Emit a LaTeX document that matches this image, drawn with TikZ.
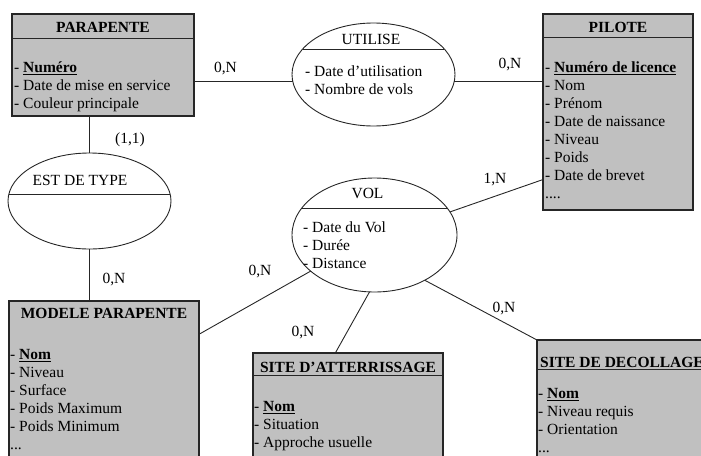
\documentclass[tikz,border=0pt]{standalone}
\usepackage{fontspec}
\setmainfont{Liberation Serif}
\usetikzlibrary{shapes, calc, positioning}
\newcommand{\erfont}{\fontsize{15.5}{18}\selectfont}
\definecolor{boxFill}{RGB}{192,192,192}
\colorlet{drawColor}{black!85}
\tikzstyle{entity}=[rectangle, anchor=north west, inner sep=0pt, outer sep=0pt,
draw=drawColor, fill=boxFill, line width=1.2pt]
\tikzstyle{relation}=[ellipse, inner sep=0pt, outer sep=0pt, draw=drawColor, line width=0.9pt]
\tikzstyle{eTitle}=[anchor=base, inner sep=0pt, font=\erfont\bfseries]
\tikzstyle{rTitle}=[anchor=base, inner sep=0pt]
\tikzstyle{attrs}=[anchor=north west, inner sep=0pt, align=left]
\tikzstyle{sep}=[draw=drawColor, line width=1pt]
\tikzstyle{link}=[draw=drawColor, line width=0.9pt]
\tikzstyle{card}=[anchor=base, inner sep=0pt]
\begin{document}
\begin{tikzpicture}[x=1pt, y=-1pt, font=\erfont]
      \useasboundingbox (0,0) rectangle (701,455);
      \clip (0,0) rectangle (701,455);
      % entites
      \node(parapente) [entity, minimum width=182, minimum height=102] at (12,14) {};
      \node(parapente-titre) [eTitle] at ($(parapente.north)+(0,18)$) {PARAPENTE};
      \draw [sep] ($(parapente.north west)+(0,24)$) -- ($(parapente.north east)+(0,24)$);
      \node(parapente-attr) [attrs] at ($(parapente.north west)+(2,45.5)$)
      {\strut- \underline{\textbf{Numéro}}\\- Date de mise en service\\- Couleur principale};
      \node(pilote) [entity, minimum width=150, minimum height=196] at (543,14) {};
      \node(pilote-titre) [eTitle] at ($(pilote.north)+(0,18)$) {PILOTE};
      \draw [sep] ($(pilote.north west)+(0,23)$) -- ($(pilote.north east)+(0,23)$);
      \node(pilote-attr) [attrs] at ($(pilote.north west)+(2,45.5)$)
      {\strut- \underline{\textbf{Numéro de licence}}\\- Nom\\- Prénom\\- Date de naissance\\
        - Niveau\\- Poids\\- Date de brevet\\....};
      \node(modele) [entity, minimum width=190, minimum height=174] at (9,301) {};
      \node(modele-titre) [eTitle] at ($(modele.north)+(0,17)$) {MODELE PARAPENTE};
      \node(modele-attr) [attrs] at ($(modele.north west)+(1,45.5)$)
      {\strut- \underline{\textbf{Nom}}\\- Niveau\\- Surface\\- Poids Maximum\\- Poids Minimum\\...};
      \node(atterrissage) [entity, minimum width=190, minimum height=110] at (253,353) {};
      \node(atterrissage-titre) [eTitle] at ($(atterrissage.north)+(0,19)$) {SITE D’ATTERRISSAGE};
      \draw [sep] ($(atterrissage.north west)+(0,22)$) -- ($(atterrissage.north east)+(0,22)$);
      \node(atterrissage-attr) [attrs] at ($(atterrissage.north west)+(1,45.5)$)
      {\strut- \underline{\textbf{Nom}}\\- Situation\\- Approche usuelle};
      \node(decollage) [entity, minimum width=170, minimum height=130] at (537,340) {};
      \node(decollage-titre) [eTitle] at ($(decollage.north)+(0,27)$) {SITE DE DECOLLAGE};
      \draw [sep] ($(decollage.north west)+(0,29)$) -- ($(decollage.north east)+(0,29)$);
      \node(decollage-attr) [attrs] at ($(decollage.north west)+(1,45.5)$)
      {\strut- \underline{\textbf{Nom}}\\- Niveau requis\\- Orientation\\...};
      % associations
      \node(utilise) [relation, minimum width=163, minimum height=103] at (373.5,74.5) {};
      \node(utilise-titre) [rTitle] at ($(utilise.center)+(-2.5,-30.5)$) {UTILISE};
      \draw [sep] ($(utilise.center)+(-70.8,-25.5)$) -- ($(utilise.center)+(70.8,-25.5)$);
      \node(utilise-attr) [attrs] at ($(utilise.center)+(-68.5,-11.1)$)
      {\strut- Date d’utilisation\\- Nombre de vols};
      \node(estdetype) [relation, minimum width=163, minimum height=96] at (89.5,201) {};
      \node(estdetype-titre) [rTitle] at ($(estdetype.center)+(-9.5,-16)$) {EST DE TYPE};
      \draw [sep] ($(estdetype.center)+(-80.6,-7)$) -- ($(estdetype.center)+(80.6,-7)$);
      \node(vol) [relation, minimum width=165, minimum height=114] at (374.5,235) {};
      \node(vol-titre) [rTitle] at ($(vol.center)+(-7,-37)$) {VOL};
      \draw [sep] ($(vol.center)+(-72.7,-27)$) -- ($(vol.center)+(72.7,-27)$);
      \node(vol-attr) [attrs] at ($(vol.center)+(-71.5,-15.6)$)
      {\strut- Date du Vol\\- Durée\\- Distance};
      % liens et cardinalites
      \draw [link] (utilise.185 -| parapente.east) -- (utilise.185);
      \node(card-pu) [card] at (225.5,72) {0,N};
      \draw [link] (utilise.-5) -- (utilise.-5 -| pilote.west);
      \node(card-up) [card] at (510,68) {0,N};
      \draw [link] (estdetype.north |- parapente.south) -- (estdetype.north);
      \node(card-pt) [card] at (130,143) {(1,1)};
      \draw [link] (estdetype.south) -- (estdetype.south |- modele.north);
      \node(card-tm) [card] at (114,283) {0,N};
      \draw [link] (modele) -- (vol);
      \node(card-mv) [card] at (260,275) {0,N};
      \draw [link] (vol.17) -- (pilote.222);
      \node(card-vp) [card] at (495,183) {1,N};
      \draw [link] (vol.265) -- (atterrissage.103);
      \node(card-va) [card] at (303,336) {0,N};
      \draw [link] (vol.318) -- (decollage.north west);
      \node(card-vd) [card] at (504,312) {0,N};
    \end{tikzpicture}
\end{document}
